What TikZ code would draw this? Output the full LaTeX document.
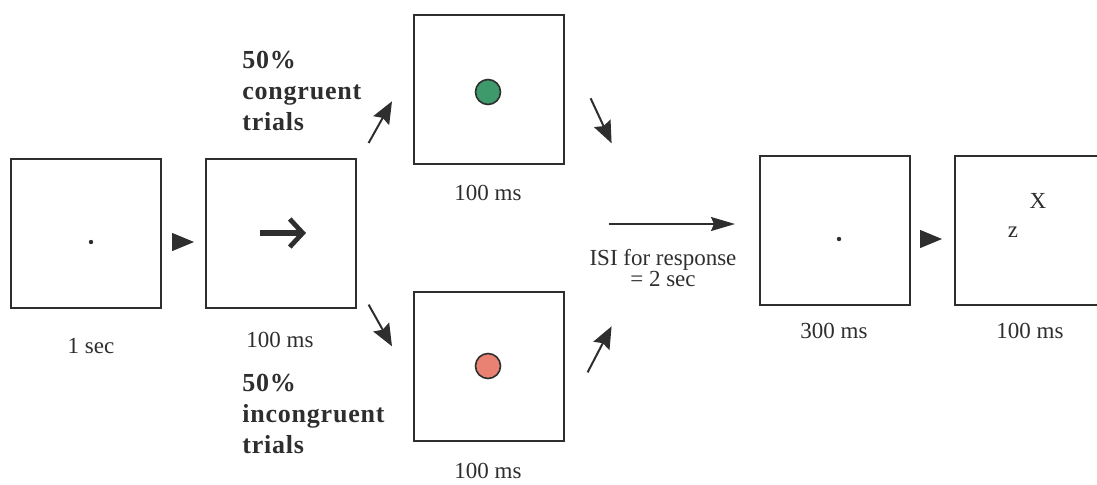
\documentclass[tikz,border=0pt]{standalone}
\usepackage{fontspec}
\setmainfont{Liberation Serif}
\usetikzlibrary{arrows.meta,calc}
\definecolor{ink}{HTML}{2E2E2E}
\definecolor{dotgreen}{HTML}{3E9A6A}
\definecolor{dotred}{HTML}{E98272}
\tikzset{
  screen/.style={draw=ink, line width=0.8pt, minimum width=75pt, minimum height=74.5pt, inner sep=0pt, anchor=north west},
  lbl/.style={text=ink, font=\fontsize{11.5}{13}\selectfont, inner sep=0pt},
  bold/.style={text=ink, font=\fontsize{13}{15.5}\selectfont\bfseries\addfontfeatures{LetterSpace=3}, align=left, inner sep=0pt, anchor=north west},
  tri/.style={draw=ink, line width=0.6pt, -{Triangle[length=11pt,width=9pt]}},
  diag/.style={draw=ink, line width=1pt, -{Stealth[length=11pt,width=9pt,inset=1.5pt]}},
  longarr/.style={draw=ink, line width=0.8pt, -{Stealth[length=12pt,width=7pt,inset=1.5pt]}},
  fix/.style={circle, fill=ink, inner sep=0pt, minimum size=2.2pt},
  stim/.style={circle, draw=ink, line width=0.8pt, minimum size=12.5pt, inner sep=0pt}
}
\begin{document}
\begin{tikzpicture}[x=0.5pt,y=-0.5pt]
\useasboundingbox (0,0) rectangle (1097,484);
% screens
\node[screen] (b1) at (10,158) {};
\node[screen] (b2) at (205,158) {};
\node[screen] (b3) at (413,14) {};
\node[screen] (b4) at (413,291) {};
\node[screen] (b5) at (759,155) {};
\node[screen] (b6) at (954,155) {};
% contents
\node[fix] (f1) at (91,242) {};
\coordinate (cs) at (260,233);
\coordinate (ce) at (306,233);
\draw[ink, line width=2.6pt, -{Straight Barb[length=6.5pt,width=14pt,line width=2.4pt]}] (cs) -- (ce);
\node[stim, fill=dotgreen] (g) at (488,92) {};
\node[stim, fill=dotred] (r) at (488,366) {};
\node[fix] (f5) at (839,239) {};
\node[lbl] (X) at (1038,201) {X};
\node[lbl] (z) at (1013,232) {z};
% duration labels
\node[lbl] (t1) at (91,346) {1 sec};
\node[lbl] (t2) at (280,340) {100 ms};
\node[lbl] (t3) at (488,193) {100 ms};
\node[lbl] (t4) at (488,471) {100 ms};
\node[lbl] (t5) at (834,331) {300 ms};
\node[lbl] (t6) at (1030,331) {100 ms};
% bold labels
\node[bold] (c1) at (242,51) {50\%\\congruent\\trials};
\node[bold] (c2) at (242,374) {50\%\\incongruent\\trials};
% ISI
\node[lbl, align=center, font=\fontsize{11.5}{10.5}\selectfont] (isi) at (663,268) {ISI for response\\= 2 sec};
% connectors
\draw[tri, shorten <=10pt, shorten >=5.5pt] (b1.east |- f1) -- (b2.west |- f1);
\draw[tri, shorten <=5pt, shorten >=6pt] (b5.east |- f5) -- (b6.west |- f5);
\draw[diag] ($(b2.north east)+(12,-15)$) -- ($(b3.west)+(-21,12)$);
\draw[diag] ($(b2.south east)+(12,-4)$) -- ($(b4.west)+(-21,-20)$);
\draw[diag] ($(b3.east)+(26,9)$) -- ($(b3.east)+(47,54)$);
\draw[diag] ($(b4.east)+(23,6)$) -- ($(b4.east)+(47,-40)$);
\coordinate (isiS) at (609,224);
\draw[longarr] (isiS) -- (b5.west |- isiS) [shorten >=12pt];
\end{tikzpicture}
\end{document}
